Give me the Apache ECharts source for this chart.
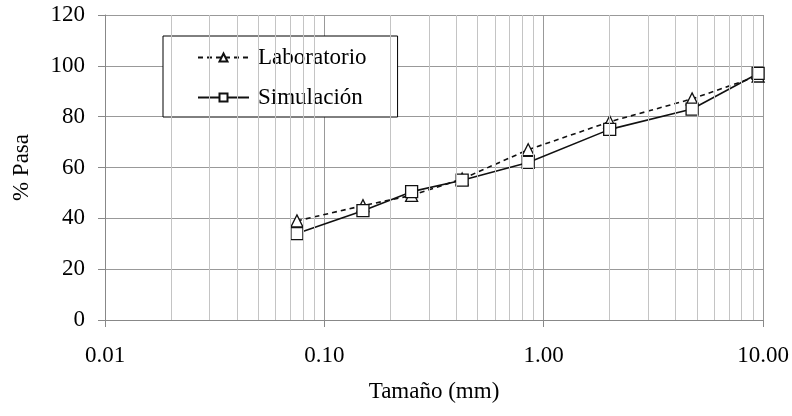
<!DOCTYPE html>
<html>
<head>
<meta charset="utf-8">
<script src="https://cdn.jsdelivr.net/npm/echarts@6/dist/echarts.min.js"></script>
<style>
  html, body { margin: 0; padding: 0; background: #fff; }
  #chart { width: 792px; height: 416px; }
</style>
</head>
<body>
<div id="chart"></div>
<script>
// tamaños de tamiz (mm) y porcentaje que pasa
var sizes = [0.075, 0.15, 0.25, 0.425, 0.85, 2.0, 4.75, 9.5];
var laboratorio = [39, 45, 49, 55.5, 67, 78, 87, 96];
var simulacion = [34, 43, 50.5, 55, 62, 75, 83, 97];
// lineas menores del eje logaritmico
var minorLines = [0.02, 0.03, 0.04, 0.05, 0.06, 0.07, 0.08, 0.09,
                  0.2, 0.3, 0.4, 0.5, 0.6, 0.7, 0.8, 0.9,
                  2, 3, 4, 5, 6, 7, 8, 9];

var font = '"Liberation Serif", "Times New Roman", serif';
var fs = 23;
var myChart = echarts.init(document.getElementById('chart'));

function pairs(ys) {
    return sizes.map(function (x, i) { return [x, ys[i]]; });
}

var option = {
    animation: false,
    textStyle: { fontFamily: font },
    grid: { left: 105, right: 29, top: 15, bottom: 96, outerBoundsMode: 'none' },
    legend: {
        data: ['Laboratorio', 'Simulación'],
        orient: 'vertical',
        left: 163,
        top: 36,
        padding: [10, 31, 8, 34],
        itemGap: 17,
        itemWidth: 51,
        itemHeight: 10,
        borderColor: '#000',
        borderWidth: 1,
        backgroundColor: '#fff',
        textStyle: { fontFamily: font, fontSize: fs, color: '#000', padding: [0, 0, 0, 4] }
    },
    xAxis: {
        type: 'log',
        logBase: 10,
        min: 0.01,
        max: 10,
        name: 'Tamaño (mm)',
        nameLocation: 'middle',
        nameGap: 60,
        nameTextStyle: { fontFamily: font, fontSize: fs, color: '#000' },
        axisLine: { onZero: false, lineStyle: { color: '#888', width: 1 } },
        axisTick: { show: true, length: 7, lineStyle: { color: '#888' } },
        axisLabel: {
            margin: 24,
            fontFamily: font,
            fontSize: fs,
            color: '#000',
            formatter: function (v) { return v.toFixed(2); }
        },
        splitLine: { show: true, lineStyle: { color: '#999', width: 1 } }
    },
    yAxis: {
        type: 'value',
        min: 0,
        max: 120,
        interval: 20,
        name: '% Pasa',
        nameLocation: 'middle',
        nameGap: 72,
        nameTextStyle: { fontFamily: font, fontSize: fs, color: '#000' },
        axisLine: { show: true, lineStyle: { color: '#888', width: 1 } },
        axisTick: { show: true, length: 7, lineStyle: { color: '#888' } },
        axisLabel: { margin: 20, fontFamily: font, fontSize: fs, color: '#000' },
        splitLine: { show: true, lineStyle: { color: '#999', width: 1 } }
    },
    series: [
        {
            type: 'line',
            data: [],
            silent: true,
            z: 1,
            markLine: {
                silent: true,
                symbol: 'none',
                label: { show: false },
                lineStyle: { color: '#c4c4c4', type: 'solid', width: 1 },
                data: minorLines.map(function (v) { return { xAxis: v }; })
            }
        },
        {
            name: 'Laboratorio',
            type: 'line',
            data: pairs(laboratorio),
            symbol: 'triangle',
            symbolSize: 12,
            z: 3,
            lineStyle: { color: '#111', width: 1.6, type: [5, 4] },
            itemStyle: { color: '#fff', borderColor: '#111', borderWidth: 1.3 }
        },
        {
            name: 'Simulación',
            type: 'line',
            data: pairs(simulacion),
            symbol: 'rect',
            symbolSize: 12,
            z: 4,
            lineStyle: { color: '#111', width: 1.6 },
            itemStyle: { color: '#fff', borderColor: '#111', borderWidth: 1.3 }
        }
    ]
};

myChart.setOption(option);
window.addEventListener('resize', function () {
    myChart.resize();
});
</script>
</body>
</html>
